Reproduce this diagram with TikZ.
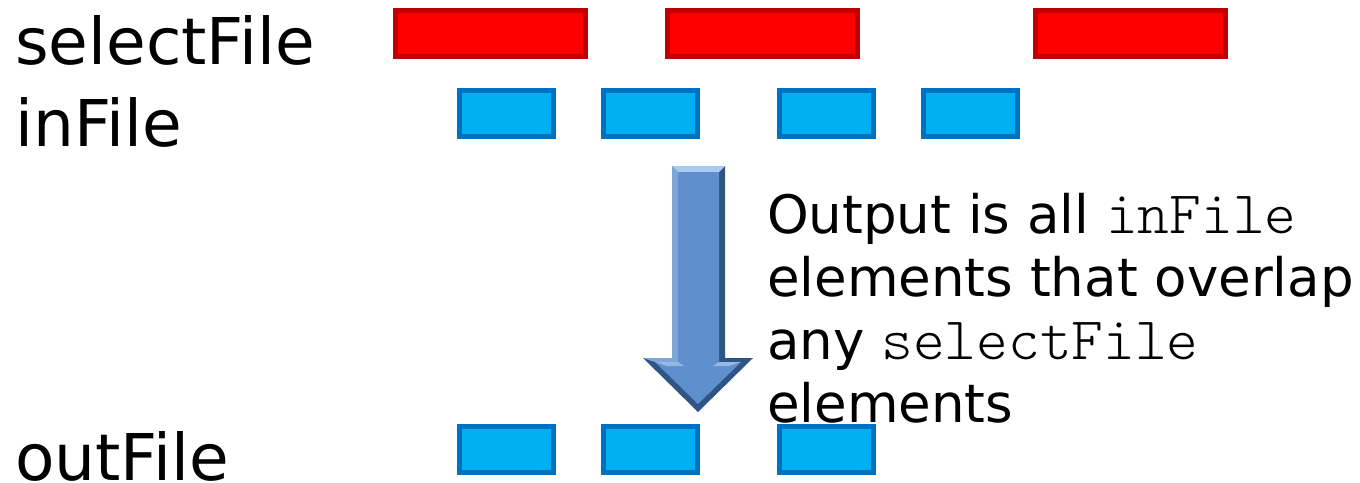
\documentclass[tikz,border=0pt]{standalone}
\usepackage{fontspec}
\setmainfont{DejaVu Sans}
\setmonofont[Scale=1.14]{Latin Modern Mono Light}
\definecolor{redfill}{HTML}{FF0000}
\definecolor{redline}{HTML}{C00000}
\definecolor{bluefill}{HTML}{00B0F0}
\definecolor{blueline}{HTML}{0070C0}
\definecolor{arrowdark}{HTML}{2E5585}
\definecolor{arrowmid}{HTML}{5F8FCC}
\definecolor{arrowlight}{HTML}{A9CBEF}
\tikzset{
  redbox/.style={draw=redline, fill=redfill, line width=5pt, minimum width=190pt, minimum height=46pt, inner sep=0pt, outer sep=0pt},
  bluebox/.style={draw=blueline, fill=bluefill, line width=5pt, minimum width=94pt, minimum height=46pt, inner sep=0pt, outer sep=0pt},
  biglabel/.style={anchor=base west, inner sep=0pt, font=\fontsize{64.5}{64}\selectfont},
  bodytext/.style={anchor=base west, inner sep=0pt, font=\fontsize{53}{53}\selectfont}
}
\begin{document}
\begin{tikzpicture}[x=1pt,y=-1pt]
\useasboundingbox (0,0) rectangle (1360,482);
% labels
\node[biglabel] (lsel) at (15,64) {selectFile};
\node[biglabel] (lin) at (15,146) {inFile};
\node[biglabel] (lout) at (15,480) {outFile};
% description
\node[bodytext] (t1) at (767,233) {Output is all \texttt{inFile}};
\node[bodytext] (t2) at (767,296) {elements that overlap};
\node[bodytext] (t3) at (767,359) {any \texttt{selectFile}};
\node[bodytext] (t4) at (767,422) {elements};
% selectFile boxes
\node[redbox] (s1) at (490.5,33.5) {};
\node[redbox] (s2) at (762.5,33.5) {};
\node[redbox] (s3) at (1130.5,33.5) {};
% inFile boxes
\node[bluebox] (i1) at (506.5,113.5) {};
\node[bluebox] (i2) at (650.5,113.5) {};
\node[bluebox] (i3) at (826.5,113.5) {};
\node[bluebox] (i4) at (970.5,113.5) {};
% outFile boxes
\node[bluebox] (o1) at (506.5,449.5) {};
\node[bluebox] (o2) at (650.5,449.5) {};
\node[bluebox] (o3) at (826.5,449.5) {};
% arrow
\fill[arrowdark] (672,166) -- (725,166) -- (725,358) -- (753,358) -- (698,412) -- (643,358) -- (672,358) -- cycle;
\fill[arrowmid!80!white] (672,166) -- (678,172) -- (678,362) -- (655,362) -- (643,358) -- (672,358) -- cycle;
\fill[arrowlight] (672,166) -- (725,166) -- (719,172) -- (678,172) -- cycle;
\fill[arrowmid] (678,172) -- (719,172) -- (719,362) -- (741,362) -- (698,404) -- (655,362) -- (678,362) -- cycle;
\fill[arrowlight!70!arrowmid] (655,362) -- (678,362) -- (684,366) -- (667,366) -- cycle;
\fill[arrowlight!70!arrowmid] (741,362) -- (719,362) -- (713,366) -- (729,366) -- cycle;
\end{tikzpicture}
\end{document}
